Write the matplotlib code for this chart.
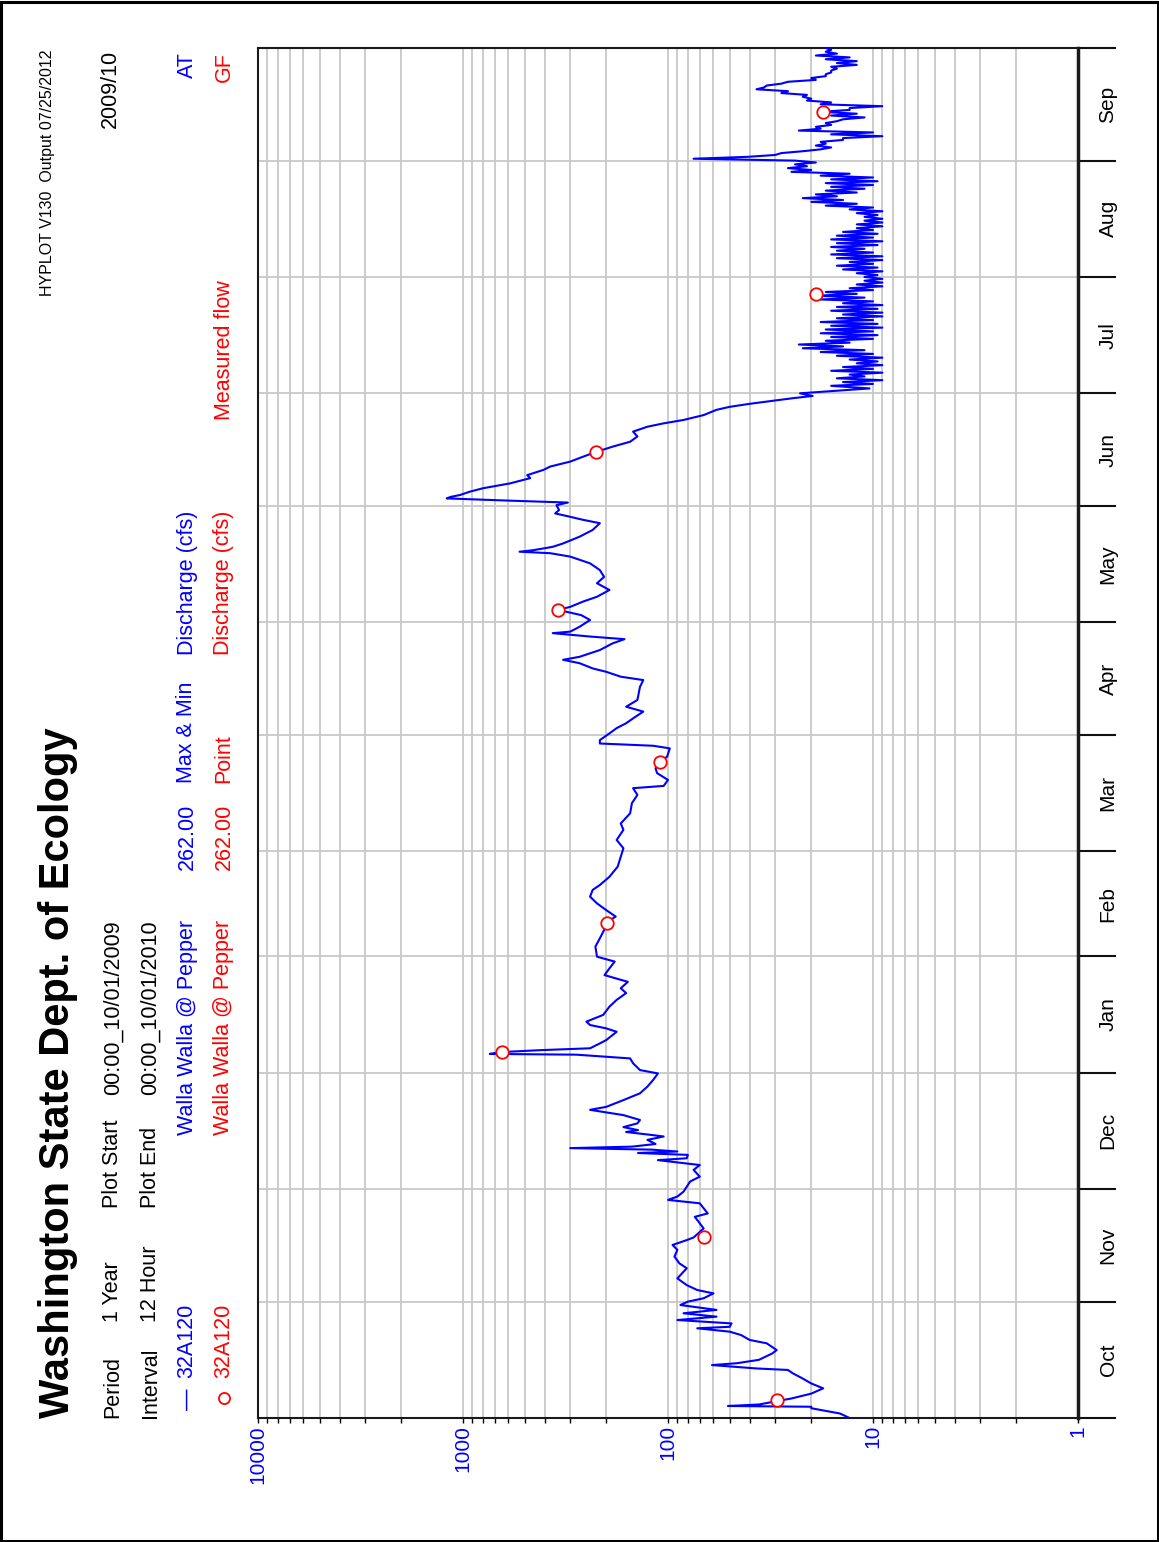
import numpy as np
import matplotlib
matplotlib.use("Agg")
import matplotlib.pyplot as plt
from matplotlib.lines import Line2D
from matplotlib.patches import Rectangle
from matplotlib.ticker import FixedLocator, FixedFormatter, LogLocator, NullFormatter

plt.rcParams['font.family'] = ['Liberation Sans', 'DejaVu Sans']

# Walla Walla @ Pepper, 12 hour max & min discharge (cfs), WY 2010.
# day = days since 00:00 10/01/2009
flow_day = [0, 1.2, 2.6, 3.0, 3.2, 3.6, 5.2, 6.5, 7.9, 9.2, 10.5, 11.9, 12.8, 13.2, 14.1,
            14.6, 15.5, 17.2, 18.1, 19.9, 20.8, 22.1, 23.0, 23.9, 24.3, 25.2, 26.1, 27.0,
            27.9, 28.8, 30.1, 31.0, 31.9, 33.2, 34.1, 35.4, 37.2, 39.9, 41.2, 43.0, 44.8,
            46.1, 47.4, 48.1, 50.5, 52.3, 53.6, 54.5, 55.9, 57.2, 58.1, 59.0, 60.3, 61.6,
            63.0, 64.3, 66.1, 67.4, 67.9, 68.7, 69.2, 70.1, 70.6, 71.0, 71.5, 71.9, 72.3,
            73.0, 74.1, 75.0, 75.4, 76.2, 76.7, 77.5, 78.5, 79.4, 80.7, 82.1, 82.9, 84.7,
            86.5, 88.3, 90.1, 91.8, 92.7, 94.5, 95.8, 96.8, 97.0, 97.5, 98.0, 98.5, 99.8,
            100.7, 102.9, 103.8, 104.7, 105.6, 107.4, 109.6, 111.4, 113.2, 114.5, 116.2,
            118.0, 119.8, 121.6, 122.9, 125.6, 127.8, 130.0, 132.0, 133.6, 135.3, 137.1,
            138.9, 140.7, 142.0, 144.2, 146.9, 149.5, 151.8, 154.0, 156.7, 158.4, 161.1,
            163.8, 166.0, 167.8, 168.4, 170.0, 171.8, 173.1, 174.9, 176.2, 178.4, 179.1,
            179.7, 180.6, 182.4, 183.8, 185.1, 186.4, 188.2, 189.5, 191.3, 193.1, 194.8,
            196.6, 197.5, 198.8, 199.7, 201.1, 202.0, 202.8, 204.6, 206.4, 207.5, 208.2,
            209.1, 209.5, 210.8, 212.6, 213.9, 215.3, 216.1, 217.5, 218.8, 220.6, 222.4,
            224.1, 225.9, 227.7, 229.5, 230.4, 230.8, 231.2, 232.1, 233.0, 234.8, 236.6,
            238.4, 239.3, 240.1, 241.0, 241.9, 243.2, 243.9, 244.4, 245.0, 245.4, 245.9,
            246.8, 247.7, 249.0, 250.4, 251.2, 252.6, 253.5, 254.8, 256.1, 257.4, 258.8,
            260.1, 261.5, 262.8, 264.1, 265.0, 265.9, 267.2, 268.6, 269.4, 270.2, 270.8,
            271.7, 272.3, 273.0, 273.8, 274.3]
flow_cfs = [13, 14.5, 20, 20, 51, 36, 25, 20, 17.5, 20, 22, 24.6, 26, 37, 61,
            46, 36, 31, 29.5, 33, 40, 44, 50, 72, 50, 49, 90, 58,
            84, 58, 87, 80, 67, 60, 72, 81, 90, 81, 88, 93, 90,
            95, 81, 75, 67, 71, 74, 64, 67, 70, 100, 90, 84, 81,
            78, 70, 75, 70, 84, 112, 81, 80, 140, 90, 120, 300, 150,
            115, 126, 105, 120, 160, 140, 165, 141, 137, 165, 240, 200, 165,
            137, 126, 118, 112, 137, 148, 153, 280, 740, 645, 420, 240, 215,
            200, 178, 200, 240, 250, 207, 193, 178, 160, 170, 157,
            204, 193, 182, 222, 226, 215, 205, 199, 180, 200, 222,
            240, 233, 215, 193, 176, 170, 165, 178, 165, 170, 153,
            150, 141, 148, 105, 100, 113, 115, 109, 101, 98, 118,
            215, 215, 193, 178, 160, 148, 132, 160, 141, 139, 137,
            132, 170, 200, 233, 270, 325, 270, 215, 186, 163, 240,
            365, 300, 270, 240, 265, 343, 300, 260, 222, 193, 222,
            205, 215, 240, 300, 375, 530, 455, 365, 325, 270, 233,
            215, 260, 300, 355, 340, 350, 308, 590, 1200, 1150, 1035,
            925, 800, 590, 470, 486, 405, 375, 300, 260, 224, 186,
            153, 141, 148, 126, 105, 84, 67, 58, 50, 40, 33,
            24.6, 19.7, 22.7, 14, 10.4]

# Jul 2 - Sep 30: readings at 00:00 and 12:00 of each day from day 275
summer_start = 275
summer_cfs = [16, 10, 14, 9, 15, 11, 13, 9, 16, 10, 14, 9, 12, 9.5, 13, 9, 15, 10, 18, 11,
              22, 14, 23, 13, 17, 10, 16, 9.5, 18, 10, 17, 9, 16, 9.5, 18, 10, 15, 9, 14, 9,
              16, 9.5, 15, 9, 14, 10, 18, 11, 19, 12, 17, 10, 13, 9, 12, 9, 11, 9, 11, 9.5,
              12, 9, 14, 9.5, 15, 10, 13, 9, 15, 9, 16, 10, 15, 11, 16, 9.5, 15, 9, 16, 10,
              15, 9.5, 14, 10, 12, 9, 12, 9, 11, 9, 11, 9.5, 12, 9, 13, 10, 17, 12, 20, 14,
              22, 15, 19, 12, 17, 11, 16, 10, 17, 9.5, 16, 10, 18, 13, 25, 20, 26, 21, 24, 19,
              24, 75, 41, 30, 28, 22, 18, 16, 19, 17, 18, 14, 14, 9, 16, 10, 23, 18, 19, 16,
              17, 15, 14, 11, 16, 12, 18, 13, 13, 9, 18, 16, 21, 20, 22, 21, 28, 26, 37, 34,
              33, 28, 26, 19, 20, 17, 17, 16, 16, 15, 16, 12, 15, 12, 17, 13, 19, 15, 17, 16,
              17]

# Measured flow (field visits)
meas_day = [4.8, 48.3, 97.5, 132.0, 174.9, 215.3, 257.4, 299.5, 348.0]
meas_cfs = [29.5, 66.7, 645, 199, 109, 343, 224, 19.0, 17.6]

months = ['Oct', 'Nov', 'Dec', 'Jan', 'Feb', 'Mar', 'Apr', 'May', 'Jun', 'Jul', 'Aug', 'Sep']
month_days = [31, 30, 31, 31, 28, 31, 30, 31, 30, 31, 31, 30]
decades = [1, 10, 100, 1000, 10000]
decade_labels = ['1', '10', '100', '1000', '10000']

BLUE = '#0000ff'
RED = '#ff0000'
W, H = 1159, 1542

summer_day = summer_start + 0.5 * np.arange(len(summer_cfs))
day = np.concatenate([flow_day, summer_day])
cfs = np.concatenate([flow_cfs, summer_cfs])

fig = plt.figure(figsize=(W / 100, H / 100), dpi=100)
ax = fig.add_axes([258 / W, 1 - 1418 / H, 820 / W, 1370 / H])

ax.plot(cfs, day, color=BLUE, lw=1.5, zorder=3)
ax.plot(meas_cfs, meas_day, 'o', mfc='white', mec=RED, ms=9, mew=1.3, zorder=4)

ax.set_xscale('log')
ax.set_xlim(10000, 1)
ax.set_ylim(0, 365)

# value axis along the bottom
ax.xaxis.set_major_locator(FixedLocator(decades))
ax.xaxis.set_major_formatter(FixedFormatter(decade_labels))
ax.xaxis.set_minor_locator(LogLocator(base=10, subs=np.arange(2, 10)))
ax.xaxis.set_minor_formatter(NullFormatter())
ax.tick_params(axis='x', which='both', direction='out', length=3.6, width=1, color='k',
               labelcolor=BLUE, labelsize=15, labelrotation=90, pad=1.5)

# month boundaries on the right
edges = np.concatenate([[0], np.cumsum(month_days)])
ax.yaxis.tick_right()
ax.yaxis.set_major_locator(FixedLocator(edges))
ax.tick_params(axis='y', which='major', direction='out', length=27.4, width=1.5,
               color='#111111', labelright=False, labelleft=False)
for name, lo, hi in zip(months, edges[:-1], edges[1:]):
    ax.text(1.0366, (lo + hi) / 2, name, transform=ax.get_yaxis_transform(),
            rotation=90, ha='center', va='center', fontsize=15, color='k')

ax.grid(which='both', axis='x', color='#c8c8c8', lw=1.3, zorder=1)
ax.grid(which='major', axis='y', color='#c8c8c8', lw=1.3, zorder=1)
for side in ['left', 'top', 'bottom']:
    ax.spines[side].set_color('#1a1a1a')
    ax.spines[side].set_linewidth(1.5)
ax.spines['right'].set_color('#1a1a1a')
ax.spines['right'].set_linewidth(2.5)


def put(x, y, s, color='k', size=15.5, ha='left', **kw):
    fig.text(x / W, 1 - y / H, s, rotation=90, rotation_mode='anchor',
             ha=ha, va='center', color=color, fontsize=size, **kw)


put(58, 1418, 'Washington State Dept. of Ecology', size=30, weight='bold')
put(113, 1418, 'Period')
put(113, 1322, '1 Year')
put(113, 1208, 'Plot Start')
put(113, 1095, '00:00_10/01/2009')
put(150, 1418, 'Interval')
put(150, 1322, '12 Hour')
put(150, 1208, 'Plot End')
put(150, 1095, '00:00_10/01/2010')

put(187, 1410, '\u2014', BLUE)
put(187, 1378, '32A120', BLUE)
put(187, 1135, 'Walla Walla @ Pepper', BLUE)
put(187, 870, '262.00', BLUE)
put(187, 783, 'Max & Min', BLUE)
put(187, 655, 'Discharge (cfs)', BLUE)
put(187, 52, 'AT', BLUE, ha='right')

fig.add_artist(Line2D([224 / W], [1 - 1398 / H], marker='o', ms=8, mfc='none',
                      mec=RED, mew=1.3, transform=fig.transFigure))
put(224, 1378, '32A120', RED)
put(224, 1135, 'Walla Walla @ Pepper', RED)
put(224, 870, '262.00', RED)
put(224, 783, 'Point', RED)
put(224, 655, 'Discharge (cfs)', RED)
put(224, 420, 'Measured flow', RED)
put(224, 52, 'GF', RED, ha='right')

put(48, 50, 'HYPLOT V130  Output 07/25/2012', size=11.5, ha='right',
    family=['Liberation Sans Narrow', 'Liberation Sans'])
put(110, 50, '2009/10', ha='right')

fig.add_artist(Rectangle((1.5 / W, 1.5 / H), 1 - 3 / W, 1 - 3 / H, transform=fig.transFigure,
                         fill=False, lw=2.2, ec='k'))

fig.savefig('out.png', dpi=100)
